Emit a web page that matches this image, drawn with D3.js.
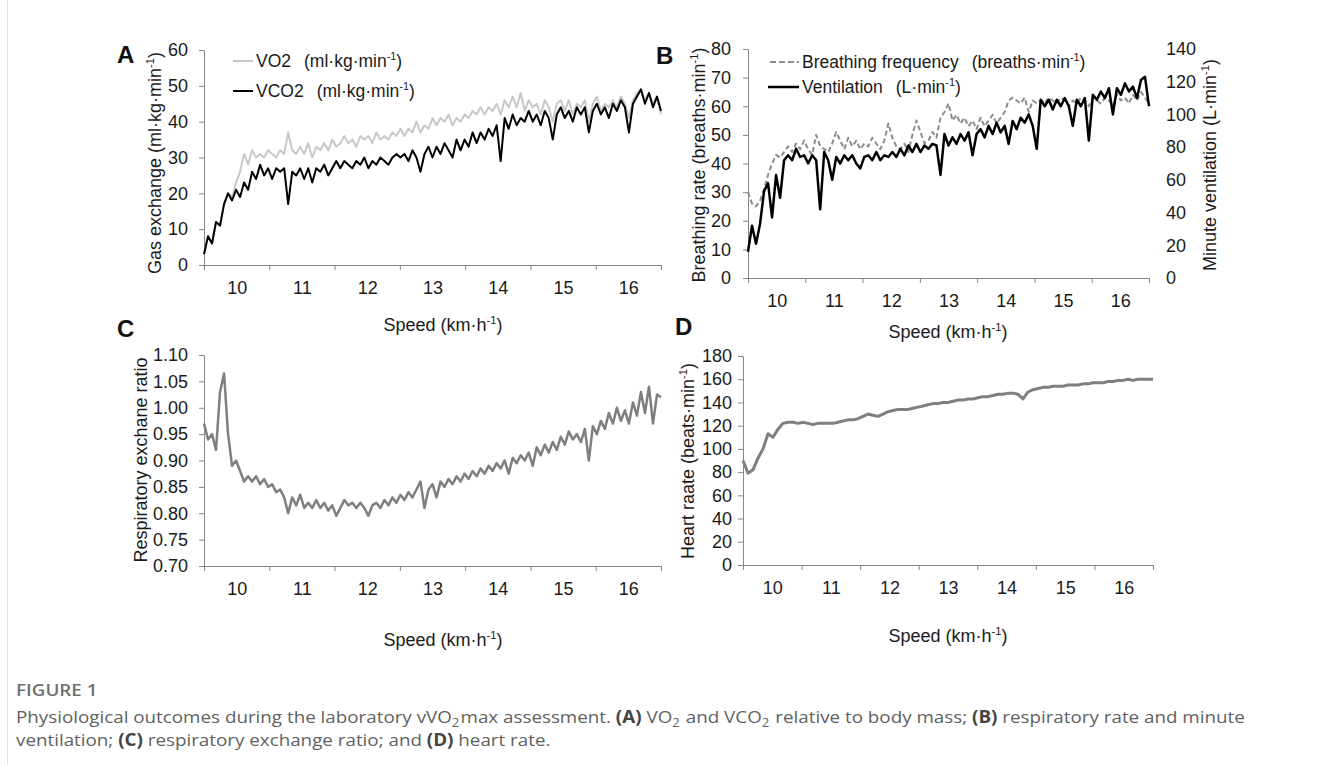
<!DOCTYPE html>
<html>
<head>
<meta charset="utf-8">
<script src="https://cdn.jsdelivr.net/npm/d3@7"></script>
<style>
  body { margin: 0; background: #fff; }
  svg { display: block; font-family: Arial, "Liberation Sans", sans-serif; }
</style>
</head>
<body>
<div id="figure"></div>
<script>
'use strict'

////////////////////////////////////
//////////// data //////////////////
////////////////////////////////////

// speed axis (category style: labels between tick marks)
const speedLabels = [10, 11, 12, 13, 14, 15, 16]
const speedEdges = [9.5, 10.5, 11.5, 12.5, 13.5, 14.5, 15.5, 16.5]
const speedRange = [9.5, 16.5]

// A - gas exchange (ml·kg·min-1)
const vo2 = [
  3, 8, 6, 12, 11, 17, 20, 19, 23, 26,
  31, 28, 32, 30, 31, 30, 32, 31, 30, 32,
  31, 37, 32, 31, 33, 31, 34, 30, 33, 32,
  34, 32, 35, 33, 34, 36, 34, 35, 33, 36,
  35, 36, 34, 37, 35, 36, 35, 37, 36, 38,
  36, 38, 37, 40, 37, 39, 38, 41, 39, 41,
  40, 42, 39, 41, 40, 42, 41, 43, 42, 44,
  42, 44, 43, 45, 42, 46, 44, 47, 44, 48,
  43, 46, 44, 45, 42, 46, 44, 40, 45, 46,
  43, 46, 42, 45, 44, 46, 40, 45, 47, 43,
  45, 44, 46, 44, 47, 45, 41, 46, 48, 49,
  46, 48, 45, 47, 42
]
const vco2 = [
  3, 8, 6, 12, 11, 17, 20, 18, 21, 19,
  23, 21, 26, 24, 28, 25, 27, 24, 27, 26,
  27, 17, 26, 25, 27, 24, 27, 23, 27, 26,
  28, 25, 27, 29, 27, 29, 28, 27, 29, 28,
  30, 27, 29, 28, 30, 29, 28, 30, 31, 30,
  31, 29, 32, 30, 26, 31, 33, 30, 33, 31,
  34, 32, 30, 35, 32, 35, 33, 37, 34, 37,
  35, 38, 36, 39, 29, 41, 38, 42, 39, 41,
  40, 43, 40, 42, 39, 43, 41, 35, 42, 44,
  41, 43, 40, 44, 42, 44, 37, 43, 45, 42,
  44, 41, 45, 43, 46, 44, 37, 45, 47, 49,
  45, 48, 44, 47, 43
]
const gasTicks = [0, 10, 20, 30, 40, 50, 60]

// B - breathing frequency (breaths·min-1) and ventilation (L·min-1)
const breathingFreq = [
  30, 26, 25, 27, 31, 36, 40, 43, 42, 44,
  46, 44, 47, 45, 48, 45, 43, 50, 46, 45,
  44, 47, 51, 48, 45, 49, 46, 48, 45, 47,
  46, 49, 47, 45, 48, 54, 49, 46, 45, 47,
  44, 50, 55, 51, 47, 48, 51, 49, 56, 58,
  61, 55, 57, 54, 56, 53, 55, 52, 56, 53,
  55, 57, 54, 56, 58, 62, 63, 62, 61, 63,
  58, 62, 61, 62, 61, 63, 62, 61, 63, 62,
  60, 62, 61, 63, 62, 60, 63, 62, 61, 63,
  62, 60, 64, 62, 63, 61, 64, 62, 65, 63,
  61
]
const ventilation = [
  16, 32, 21, 33, 53, 58, 37, 63, 49, 72,
  75, 72, 79, 74, 75, 70, 75, 72, 42, 77,
  72, 60, 74, 70, 75, 72, 75, 70, 67, 74,
  75, 72, 77, 72, 75, 74, 77, 74, 79, 75,
  81, 77, 82, 77, 81, 79, 82, 81, 63, 88,
  81, 86, 82, 88, 84, 89, 75, 88, 91, 86,
  93, 88, 95, 89, 93, 82, 96, 91, 98, 95,
  100, 93, 79, 109, 105, 109, 103, 109, 105, 110,
  105, 93, 109, 105, 110, 84, 112, 109, 114, 110,
  116, 100, 116, 112, 119, 114, 117, 110, 121, 123,
  105
]
const breathTicks = [0, 10, 20, 30, 40, 50, 60, 70, 80]
const ventTicks = [0, 20, 40, 60, 80, 100, 120, 140]

// C - respiratory exchange ratio
const rer = [
  0.97, 0.94, 0.95, 0.92, 1.03, 1.065, 0.95, 0.89, 0.90, 0.88,
  0.86, 0.87, 0.86, 0.87, 0.855, 0.865, 0.85, 0.855, 0.84, 0.845,
  0.83, 0.80, 0.83, 0.815, 0.835, 0.81, 0.82, 0.81, 0.825, 0.81,
  0.82, 0.805, 0.815, 0.795, 0.81, 0.825, 0.815, 0.82, 0.81, 0.82,
  0.81, 0.795, 0.815, 0.82, 0.81, 0.825, 0.815, 0.83, 0.82, 0.835,
  0.825, 0.84, 0.83, 0.845, 0.86, 0.81, 0.845, 0.855, 0.83, 0.86,
  0.85, 0.865, 0.855, 0.87, 0.86, 0.875, 0.865, 0.88, 0.87, 0.885,
  0.875, 0.89, 0.88, 0.895, 0.885, 0.90, 0.875, 0.905, 0.895, 0.91,
  0.90, 0.915, 0.89, 0.925, 0.91, 0.93, 0.915, 0.935, 0.92, 0.945,
  0.93, 0.955, 0.94, 0.95, 0.935, 0.96, 0.90, 0.965, 0.95, 0.975,
  0.96, 0.99, 0.97, 1.00, 0.975, 0.995, 0.97, 1.01, 0.985, 1.03,
  0.99, 1.04, 0.97, 1.025, 1.02
]
const rerTicks = [0.70, 0.75, 0.80, 0.85, 0.90, 0.95, 1.00, 1.05, 1.10]

// D - heart rate (beats·min-1)
const heartRate = [
  90, 79, 82, 92, 100, 113, 110, 117, 122, 123,
  123, 122, 123, 122, 121, 122, 122, 122, 122, 123,
  124, 125, 125, 126, 128, 130, 129, 128, 130, 132,
  133, 134, 134, 134, 135, 136, 137, 138, 139, 139,
  140, 140, 141, 142, 142, 143, 143, 144, 145, 145,
  146, 147, 147, 148, 148, 147, 143, 149, 151, 152,
  153, 153, 154, 154, 154, 155, 155, 155, 156, 156,
  157, 157, 157, 158, 158, 159, 159, 160, 159, 160,
  160, 160, 160
]
const hrTicks = [0, 20, 40, 60, 80, 100, 120, 140, 160, 180]

////////////////////////////////////
//////////// svg setup /////////////
////////////////////////////////////

const svgWidth = 1328
const svgHeight = 765
const axisColor = '#868686'
const textColor = '#1a1a1a'

const svg = d3.select('#figure')
    .append('svg')
    .attr('width', svgWidth)
    .attr('height', svgHeight)

// faint page edge on the left
svg.append('line')
    .attr('x1', 7.5).attr('x2', 7.5)
    .attr('y1', 0).attr('y2', svgHeight)
    .style('stroke', '#e2e2e2')

////////////////////////////////////
//////////// helpers ///////////////
////////////////////////////////////

// text with a "-1" superscript unit
function unitText(sel, base, sup, tail) {
    sel.append('tspan').text(base)
    sel.append('tspan').attr('font-size', '0.62em').attr('dy', -7).text(sup)
    sel.append('tspan').attr('dy', 7).text(tail)
}

function styleAxis(g) {
    g.attr('font-family', null).attr('font-size', null)
    g.select('.domain').style('stroke', axisColor)
    g.selectAll('.tick line').style('stroke', axisColor)
    g.selectAll('.tick text').style('fill', textColor).style('font-size', '18px')
}

function panel(p) {
    const g = svg.append('g')
    const x = d3.scaleLinear().domain(speedRange).range([p.left, p.right])
    const y = d3.scaleLinear().domain(p.yDomain).range([p.bottom, p.top])

    // y axis
    g.append('g')
        .attr('transform', `translate(${p.left},0)`)
        .call(d3.axisLeft(y).tickValues(p.yTicks).tickSize(5).tickSizeOuter(0)
            .tickPadding(p.yPad).tickFormat(p.fmt || d3.format('d')))
        .call(styleAxis)

    // x axis: tick marks on the category edges
    g.append('g')
        .attr('transform', `translate(0,${p.bottom})`)
        .call(d3.axisBottom(x).tickValues(speedEdges).tickSize(5).tickSizeOuter(0).tickFormat(''))
        .call(styleAxis)

    // x labels in the middle of each category
    g.append('g')
        .attr('transform', `translate(0,${p.bottom})`)
        .call(d3.axisBottom(x).tickValues(speedLabels).tickSize(0).tickPadding(16).tickFormat(d3.format('d')))
        .call(styleAxis)
        .call(a => a.select('.domain').remove())

    // x title
    g.append('text')
        .attr('x', p.xTitleX).attr('y', p.xTitleY)
        .attr('text-anchor', 'middle')
        .style('font-size', '18px').style('fill', textColor)
        .call(unitText, 'Speed (km·h', '-1', ')')

    // y title
    const yt = g.append('text')
        .attr('transform', `translate(${p.yTitleX},${p.yTitleY}) rotate(-90)`)
        .attr('text-anchor', 'middle')
        .attr('dy', '0.35em')
        .style('font-size', '18px').style('fill', textColor)
    if (p.yTitleSup) yt.call(unitText, p.yTitle, '-1', ')')
    else yt.text(p.yTitle)

    // panel letter
    g.append('text')
        .attr('x', p.letterX).attr('y', p.letterY)
        .style('font-size', '24px').style('font-weight', 'bold').style('fill', '#111')
        .text(p.letter)

    return { g, x, y }
}

function drawLine(g, x, y, values, color, width, dash) {
    const n = values.length
    const step = (speedRange[1] - speedRange[0]) / (n - 1)
    const line = d3.line()
        .x((d, i) => x(speedRange[0] + i * step))
        .y(d => y(d))
    g.append('path')
        .datum(values)
        .attr('d', line)
        .style('fill', 'none')
        .style('stroke', color)
        .style('stroke-width', width)
        .style('stroke-linejoin', 'round')
        .style('stroke-dasharray', dash || null)
}

function legendRow(g, x1, x2, y, color, width, dash, label, unit) {
    g.append('line')
        .attr('x1', x1).attr('x2', x2).attr('y1', y).attr('y2', y)
        .style('stroke', color).style('stroke-width', width)
        .style('stroke-dasharray', dash || null)
    const t = g.append('text')
        .attr('x', x2 + 3).attr('y', y + 6)
        .style('font-size', '17.5px').style('fill', textColor)
    t.append('tspan').text(label)
    t.append('tspan').attr('dx', 13).text(unit)
    t.append('tspan').attr('font-size', '0.62em').attr('dy', -7).text('-1')
    t.append('tspan').attr('dy', 7).text(')')
}

////////////////////////////////////
//////////// panel A ///////////////
////////////////////////////////////

const A = panel({
    left: 204, right: 661, top: 50, bottom: 265,
    yDomain: [0, 60], yTicks: gasTicks, yPad: 11,
    xTitleX: 443, xTitleY: 331,
    yTitle: 'Gas exchange (ml·kg·min', yTitleSup: true, yTitleX: 155, yTitleY: 163,
    letter: 'A', letterX: 117, letterY: 63
})
drawLine(A.g, A.x, A.y, vo2, '#c8c8c8', 2)
drawLine(A.g, A.x, A.y, vco2, '#000', 2)
legendRow(A.g, 233, 253, 61, '#c8c8c8', 2, null, 'VO2', '(ml·kg·min')
legendRow(A.g, 233, 253, 91, '#000', 2, null, 'VCO2', '(ml·kg·min')

////////////////////////////////////
//////////// panel B ///////////////
////////////////////////////////////

const B = panel({
    left: 748, right: 1149, top: 49, bottom: 278,
    yDomain: [0, 80], yTicks: breathTicks, yPad: 12,
    xTitleX: 948, xTitleY: 338,
    yTitle: 'Breathing rate (breaths·min', yTitleSup: true, yTitleX: 699, yTitleY: 165,
    letter: 'B', letterX: 656, letterY: 64
})
const yVent = d3.scaleLinear().domain([0, 140]).range([278, 49])
B.g.append('g')
    .attr('transform', 'translate(1149,0)')
    .call(d3.axisRight(yVent).tickValues(ventTicks).tickSize(0).tickPadding(17))
    .call(styleAxis)
    .call(a => a.select('.domain').remove())
B.g.append('text')
    .attr('transform', 'translate(1210,165) rotate(-90)')
    .attr('text-anchor', 'middle').attr('dy', '0.35em')
    .style('font-size', '18px').style('fill', textColor)
    .call(unitText, 'Minute ventilation (L·min', '-1', ')')

drawLine(B.g, B.x, B.y, breathingFreq, '#8c8c8c', 2, '5,3')
drawLine(B.g, B.x, yVent, ventilation, '#000', 2.5)
legendRow(B.g, 770, 799, 62, '#8c8c8c', 2, '6,3', 'Breathing frequency', '(breaths·min')
legendRow(B.g, 768, 799, 87, '#000', 2.5, null, 'Ventilation', '(L·min')

////////////////////////////////////
//////////// panel C ///////////////
////////////////////////////////////

const C = panel({
    left: 204, right: 661, top: 355, bottom: 566,
    yDomain: [0.70, 1.10], yTicks: rerTicks, yPad: 11, fmt: d3.format('.2f'),
    xTitleX: 443, xTitleY: 646,
    yTitle: 'Respiratory exchane ratio', yTitleSup: false, yTitleX: 141, yTitleY: 460,
    letter: 'C', letterX: 117, letterY: 337
})
drawLine(C.g, C.x, C.y, rer, '#7f7f7f', 2.5)

////////////////////////////////////
//////////// panel D ///////////////
////////////////////////////////////

const D = panel({
    left: 743, right: 1153, top: 356, bottom: 565,
    yDomain: [0, 180], yTicks: hrTicks, yPad: 6,
    xTitleX: 948, xTitleY: 642,
    yTitle: 'Heart raate (beats·min', yTitleSup: true, yTitleX: 688, yTitleY: 461,
    letter: 'D', letterX: 675, letterY: 335
})
drawLine(D.g, D.x, D.y, heartRate, '#7f7f7f', 3)

////////////////////////////////////
//////////// caption ///////////////
////////////////////////////////////

const cap = svg.append('g')
    .style('font-family', '"Open Sans", sans-serif')
    .style('font-size', '17px')
    .style('fill', '#5f5f5f')

cap.append('text')
    .attr('x', 0).attr('y', 696)
    .style('font-weight', 600).style('fill', '#6f6f6f')
    .text('FIGURE 1')

function captionLine(y, parts) {
    const t = cap.append('text').attr('x', 0).attr('y', y)
    let back = 0
    parts.forEach(p => {
        let s
        if (p.sub) {
            s = t.append('tspan').attr('font-size', '0.7em').attr('dy', 4).text(p.sub)
            back = -4
            return
        } else if (p.b) {
            s = t.append('tspan').style('font-weight', 'bold').style('fill', '#444').text(p.b)
        } else {
            s = t.append('tspan').text(p.t)
        }
        if (back) { s.attr('dy', back).attr('dx', 1); back = 0 }
    })
    return t
}

const line1 = captionLine(723, [
    { t: 'Physiological outcomes during the laboratory vVO' }, { sub: '2' },
    { t: 'max assessment. ' }, { b: '(A)' }, { t: ' VO' }, { sub: '2' },
    { t: ' and VCO' }, { sub: '2' }, { t: ' relative to body mass; ' },
    { b: '(B)' }, { t: ' respiratory rate and minute' }
])
captionLine(746, [
    { t: 'ventilation; ' }, { b: '(C)' }, { t: ' respiratory exchange ratio; and ' },
    { b: '(D)' }, { t: ' heart rate.' }
])

// the journal font is narrow: squeeze the caption to the printed line width
const capScale = 1227 / line1.node().getComputedTextLength()
cap.attr('transform', `translate(16,0) scale(${capScale},1)`)

</script>
</body>
</html>
